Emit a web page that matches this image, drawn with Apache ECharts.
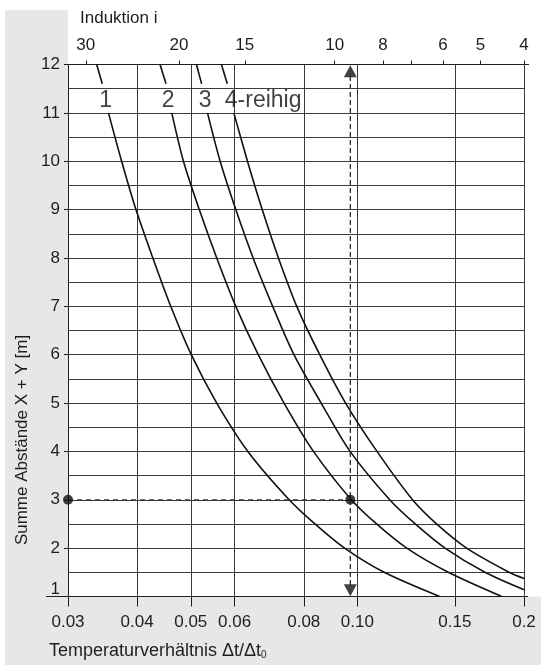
<!DOCTYPE html>
<html><head><meta charset="utf-8">
<script src="https://cdn.jsdelivr.net/npm/echarts@6/dist/echarts.min.js"></script>
<style>html,body{margin:0;padding:0;background:#fff}#c{width:541px;height:665px}</style>
</head><body><div id="c"></div>
<script>
// ---- data ----
const bottomTickValues = [0.03, 0.04, 0.05, 0.06, 0.08, 0.10, 0.15, 0.2];
const bottomTickLabels = ['0.03', '0.04', '0.05', '0.06', '0.08', '0.10', '0.15', '0.2'];
const topTickValues = [0.0323, 0.0476, 0.0626, 0.0910, 0.1112, 0.1252, 0.1428, 0.1668, 0.2];
const topTickLabels = ['30', '20', '15', '10', '8', '', '6', '5', '4'];

const curve1Top = [[0.0338, 12], [0.0346, 11.6]];
const curve1 = [[0.0355, 11], [0.0375, 10], [0.0398, 9], [0.0427, 8], [0.0460, 7], [0.0501, 6], [0.0557, 5], [0.0634, 4], [0.0753, 3], [0.0838, 2.5], [0.0948, 2], [0.1118, 1.5], [0.1408, 1]];
const curve2Top = [[0.0440, 12], [0.0451, 11.6]];
const curve2 = [[0.0462, 11], [0.0485, 10], [0.0518, 9], [0.0557, 8], [0.0603, 7], [0.0662, 6], [0.0737, 5], [0.0833, 4], [0.0975, 3], [0.1083, 2.5], [0.1228, 2], [0.1460, 1.5], [0.1823, 1]];
const curve3Top = [[0.0512, 12], [0.0523, 11.6]];
const curve3 = [[0.0536, 11], [0.0565, 10], [0.0603, 9], [0.0648, 8], [0.0703, 7], [0.0768, 6], [0.0860, 5], [0.0970, 4], [0.1144, 3], [0.1272, 2.5], [0.1440, 2], [0.1700, 1.5], [0.2, 1.14]];
const curve4Top = [[0.0568, 12], [0.0582, 11.6]];
const curve4 = [[0.0598, 11], [0.0633, 10], [0.0673, 9], [0.0720, 8], [0.0777, 7], [0.0855, 6], [0.0952, 5], [0.1085, 4], [0.1258, 3], [0.1390, 2.5], [0.1575, 2], [0.1880, 1.5], [0.2, 1.37]];

const curveLabels = ['1', '2', '3', '4-reihig'];
const curveLabelX = [0.0351, 0.0455, 0.0531, 0.0576];
const curveLabelY = 11.25;

const readingX = 0.0971;
const readingY = 3;
const arrowTopY = 11.86;
const arrowBottomY = 1.13;

// ---- chart ----
const FONT = '"Liberation Sans", Arial, Helvetica, sans-serif';
const INK = '#1e1e1e';
const GRID = '#3a3a3a';
const chart = echarts.init(document.getElementById('c'), null, {renderer: 'canvas'});

function nearestLabel(v, vals, labels) {
  let best = 0, bd = Infinity;
  vals.forEach((t, i) => { const d = Math.abs(Math.log(t) - Math.log(v)); if (d < bd) { bd = d; best = i; } });
  return labels[best];
}

const curveStyle = {color: '#111', width: 1.6};
function curveSeries(data) {
  return {type: 'line', data, smooth: 0.3, symbol: 'none', lineStyle: curveStyle, silent: true, z: 5, animation: false};
}

const option = {
  animation: false,
  grid: {left: 68, top: 64.5, width: 456, height: 532},
  graphic: [
    {type: 'rect', z: -10, shape: {x: 5, y: 10, width: 63, height: 655}, style: {fill: '#e6e7e8'}},
    {type: 'rect', z: -10, shape: {x: 5, y: 596.5, width: 536, height: 69}, style: {fill: '#e6e7e8'}},
    {type: 'text', left: 80, top: 10, style: {text: 'Induktion i', fontSize: 17, fontFamily: FONT, fill: INK}},
    {type: 'text', left: 49, top: 642, style: {
      text: 'Temperaturverhältnis Δt/Δt{s|0}', fontSize: 18, fontFamily: FONT, fill: INK,
      rich: {s: {fontSize: 10, fontFamily: FONT, fill: INK, padding: [9, 0, 0, 0]}}}},
    {type: 'text', x: 22, y: 440, rotation: Math.PI / 2, style: {
      text: 'Summe Abstände X + Y [m]', fontSize: 17, fontFamily: FONT, fill: INK, align: 'center', verticalAlign: 'middle'}}
  ],
  xAxis: [
    {type: 'log', logBase: 10, min: 0.03, max: 0.2, position: 'bottom',
     axisLine: {show: true, onZero: false, lineStyle: {color: INK, width: 1}},
     axisTick: {show: true, customValues: bottomTickValues, length: 10, lineStyle: {color: INK, width: 1}},
     axisLabel: {customValues: bottomTickValues, formatter: v => nearestLabel(v, bottomTickValues, bottomTickLabels),
                 fontSize: 17, fontFamily: FONT, color: INK, margin: 17},
     splitLine: {show: false}, minorSplitLine: {show: false}},
    {type: 'log', logBase: 10, min: 0.03, max: 0.2, position: 'top',
     axisLine: {show: true, onZero: false, lineStyle: {color: INK, width: 1}},
     axisTick: {show: true, customValues: topTickValues, length: 4, lineStyle: {color: INK, width: 1}},
     axisLabel: {customValues: topTickValues.filter((v, i) => topTickLabels[i] !== ''),
                 formatter: v => nearestLabel(v, topTickValues, topTickLabels),
                 fontSize: 17, fontFamily: FONT, color: INK, margin: 11},
     splitLine: {show: false}}
  ],
  yAxis: {type: 'value', min: 1, max: 12, interval: 1,
    axisLine: {show: true, onZero: false, lineStyle: {color: INK, width: 1}},
    axisTick: {show: true, length: 4, lineStyle: {color: INK}},
    axisLabel: {fontSize: 17, fontFamily: FONT, color: INK, margin: 8,
      formatter: v => v === 1 ? '{b|1}' : String(v),
      rich: {b: {fontSize: 17, fontFamily: FONT, color: INK, padding: [0, 0, 14, 0]}}},
    splitLine: {show: true, lineStyle: {color: GRID, width: 1}},
    minorTick: {show: false, splitNumber: 2},
    minorSplitLine: {show: true, lineStyle: {color: GRID, width: 1}}
  },
  series: [
    {type: 'line', data: [], silent: true,
     markLine: {silent: true, symbol: 'none', label: {show: false}, animation: false,
       lineStyle: {color: GRID, width: 1, type: 'solid'},
       data: bottomTickValues.slice(1).map(v => ({xAxis: v}))}},
    curveSeries(curve1Top), curveSeries(curve1),
    curveSeries(curve2Top), curveSeries(curve2),
    curveSeries(curve3Top), curveSeries(curve3),
    curveSeries(curve4Top), curveSeries(curve4),
    {type: 'line', data: [[readingX, arrowTopY - 0.1], [readingX, arrowBottomY + 0.1]], symbol: 'none', silent: true, z: 6,
     lineStyle: {color: '#333', width: 1.4, type: [5, 3]}},
    {type: 'line', data: [[0.03, readingY], [readingX, readingY]], symbol: 'none', silent: true, z: 6,
     lineStyle: {color: '#333', width: 1.2, type: [5, 4]}},
    {type: 'scatter', data: [[readingX, arrowTopY]], symbol: 'triangle', symbolSize: [13, 12], silent: true, z: 7,
     itemStyle: {color: '#111'}},
    {type: 'scatter', data: [[readingX, arrowBottomY]], symbol: 'triangle', symbolSize: [13, 12], symbolRotate: 180, silent: true, z: 7,
     itemStyle: {color: '#111'}},
    {type: 'scatter', data: [[0.03, readingY], [readingX, readingY]], symbolSize: 10, clip: false, silent: true, z: 8,
     itemStyle: {color: '#111'}},
    {type: 'scatter', silent: true, symbolSize: 0, z: 9,
     data: curveLabels.map((t, i) => ({value: [curveLabelX[i], curveLabelY], name: t,
       label: {align: i === 3 ? 'left' : 'center'}})),
     label: {show: true, position: 'inside', formatter: p => p.name, fontSize: 23, fontFamily: FONT, color: '#111'}}
  ]
};
chart.setOption(option);

// extend the bottom and top frame lines like the original drawing
const pBL = chart.convertToPixel({xAxisIndex: 0, yAxisIndex: 0}, [0.03, 1]);
const pTR = chart.convertToPixel({xAxisIndex: 0, yAxisIndex: 0}, [0.2, 12]);
chart.setOption({graphic: option.graphic.concat([
  {type: 'line', z: 1, shape: {x1: pBL[0] - 22, y1: pBL[1], x2: pTR[0] + 4, y2: pBL[1]}, style: {stroke: INK, lineWidth: 1}},
  {type: 'line', z: 1, shape: {x1: pBL[0] - 3, y1: pTR[1], x2: pTR[0] + 5, y2: pTR[1]}, style: {stroke: INK, lineWidth: 1}}
])});
</script>
</body></html>
